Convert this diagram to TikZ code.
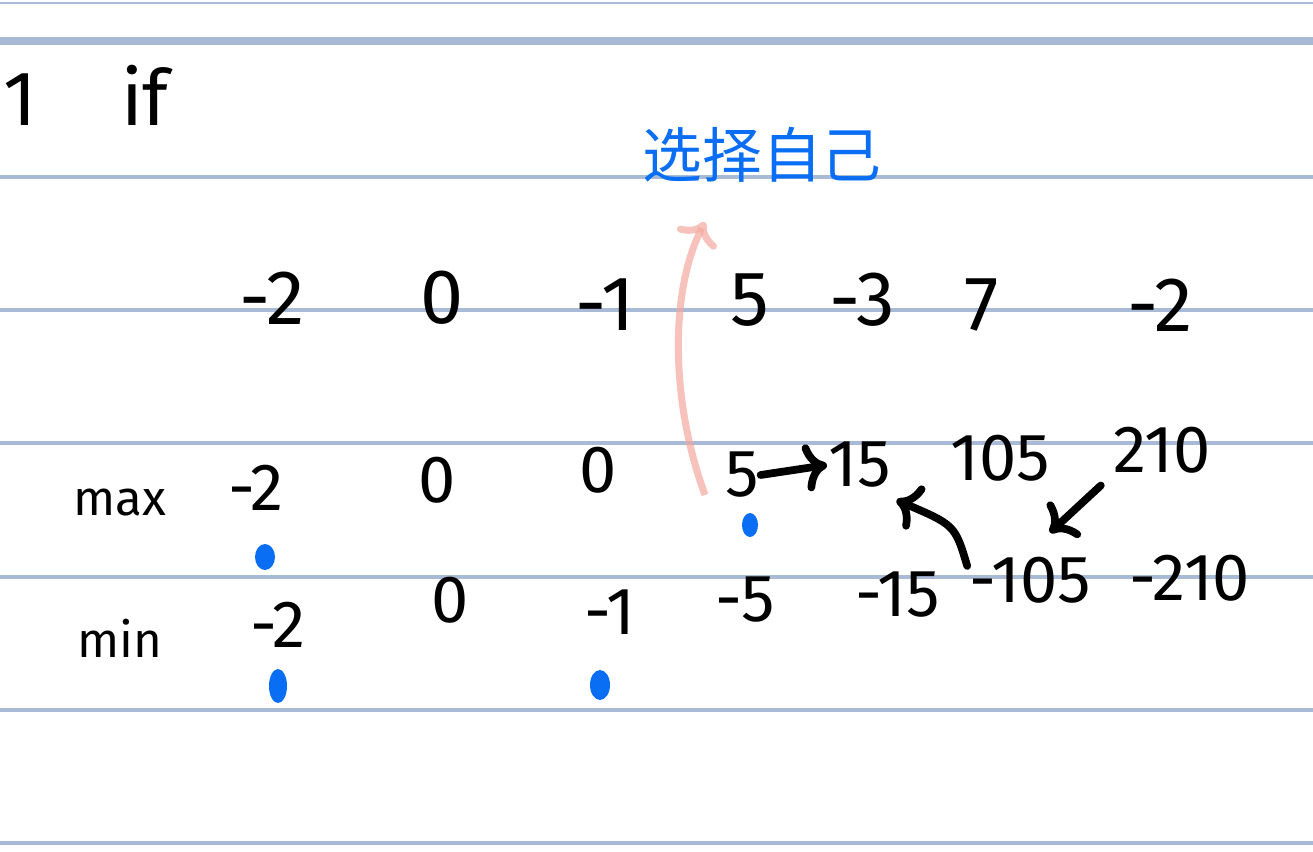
\documentclass[tikz,border=0pt]{standalone}
\usepackage{fontspec}
\setmainfont{Fira Sans}
\newfontfamily\cjk{Noto Sans CJK SC}
\usetikzlibrary{arrows.meta}
\definecolor{ruleblue}{HTML}{A9BAD6}
\definecolor{inkblue}{HTML}{0A6EF5}
\definecolor{pencil}{HTML}{F2A89E}
\tikzset{
  rule/.style={ruleblue, line width=1.2pt},
  big/.style={font=\fontsize{22}{24}\selectfont},
  num/.style={font=\fontsize{19}{22}\selectfont},
  tag/.style={font=\fontsize{14}{17}\selectfont},
  ink/.style={line width=2.2pt, line cap=round},
  bluedot/.style={fill=inkblue}
}
\begin{document}
\begin{tikzpicture}[x=1cm,y=-1cm]
  \useasboundingbox (0,0) rectangle (13.13,8.51);
  % ruled paper
  \draw[ruleblue, line width=0.8pt] (0,0.03) -- (13.13,0.03);
  \draw[ruleblue, line width=2.5pt] (0,0.41) -- (13.13,0.41);
  \foreach \y in {1.77,3.10,4.43,5.77,7.10,8.43}
    \draw[rule] (0,\y) -- (13.13,\y);

  \node[big] (one) at (0.2,1.0) {1};
  \node[big] (cond) at (1.45,0.95) {if};

  % the array
  \node[big] (a1) at (2.72,2.98) {-2};
  \node[big] (a2) at (4.42,2.98) {0};
  \node[big] (a3) at (6.05,3.05) {-1};
  \node[big] (a4) at (7.50,3.00) {5};
  \node[big] (a5) at (8.62,3.00) {-3};
  \node[big] (a6) at (9.82,3.05) {7};
  \node[big] (a7) at (11.60,3.05) {-2};

  % max row
  \node[tag] (mxlab) at (1.20,5.03) {max};
  \node[num] (mx1) at (2.56,4.88) {-2};
  \node[num] (mx2) at (4.37,4.80) {0};
  \node[num] (mx3) at (5.98,4.70) {0};
  \node[num] (mx4) at (7.42,4.75) {5};
  \node[num] (mx5) at (8.60,4.65) {15};
  \node[num] (mx6) at (10.00,4.58) {105};
  \node[num] (mx7) at (11.62,4.50) {210};

  % min row
  \node[tag] (mnlab) at (1.20,6.38) {min};
  \node[num] (mn1) at (2.78,6.25) {-2};
  \node[num] (mn2) at (4.50,6.00) {0};
  \node[num] (mn3) at (6.10,6.12) {-1};
  \node[num] (mn4) at (7.45,6.00) {-5};
  \node[num] (mn5) at (8.98,5.95) {-15};
  \node[num] (mn6) at (10.30,5.80) {-105};
  \node[num] (mn7) at (11.90,5.78) {-210};

  \draw[ink,->] ([xshift=-3pt]mx4.east) -- ([xshift=3pt]mx5.west);
  \draw[ink,->] ([xshift=3pt,yshift=4pt]mn6.west) .. controls (9.55,5.25) .. ([xshift=-2pt]mx5.south east);
  \draw[ink,->] (mx7.south west) -- ([shift={(0.2,-0.12)}]mn6.north);

  \fill[bluedot] (2.65,5.57) ellipse (0.10 and 0.13);
  \fill[bluedot] (7.50,5.25) ellipse (0.08 and 0.12);
  \fill[bluedot] (2.78,6.86) ellipse (0.09 and 0.17);
  \fill[bluedot] (6.00,6.85) ellipse (0.10 and 0.15);

  % pick itself
  \node[text=inkblue, font=\cjk\fontsize{17}{20}\selectfont] (self) at (7.62,1.55) {选择自己};
  \coordinate (tip) at (7.05,2.22);
  \draw[pencil, line width=2pt, opacity=0.7, ->] (7.05,4.95) .. controls (6.7,4.0) and (6.7,2.9) .. (tip);
\end{tikzpicture}
\end{document}
